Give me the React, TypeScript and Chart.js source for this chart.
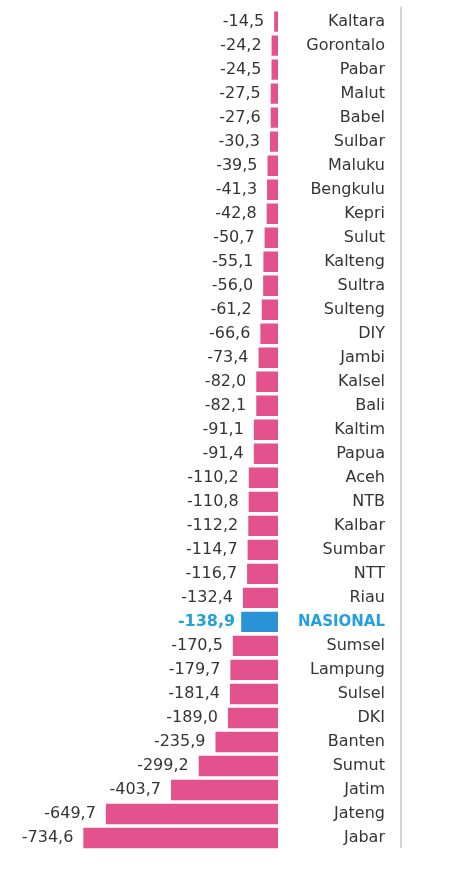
import React, { useEffect, useRef } from "react";
import { Chart, registerables } from "chart.js";

Chart.register(...registerables);

// Provinces, ordered from the smallest decline to the largest
const categories = [
  "Kaltara", "Gorontalo", "Pabar", "Malut", "Babel", "Sulbar", "Maluku",
  "Bengkulu", "Kepri", "Sulut", "Kalteng", "Sultra", "Sulteng", "DIY",
  "Jambi", "Kalsel", "Bali", "Kaltim", "Papua", "Aceh", "NTB", "Kalbar",
  "Sumbar", "NTT", "Riau", "NASIONAL", "Sumsel", "Lampung", "Sulsel", "DKI",
  "Banten", "Sumut", "Jatim", "Jateng", "Jabar",
];

const values = [
  -14.5, -24.2, -24.5, -27.5, -27.6, -30.3, -39.5,
  -41.3, -42.8, -50.7, -55.1, -56.0, -61.2, -66.6,
  -73.4, -82.0, -82.1, -91.1, -91.4, -110.2, -110.8, -112.2,
  -114.7, -116.7, -132.4, -138.9, -170.5, -179.7, -181.4, -189.0,
  -235.9, -299.2, -403.7, -649.7, -734.6,
];

const highlight = "NASIONAL";
const PINK = "#e4528d";
const BLUE = "#2a93d5";
const BLUE_TEXT = "#25a0dc";
const TEXT = "#353535";
const FONT = "'DejaVu Sans', sans-serif";

const fmt = (v: number) => v.toFixed(1).replace(".", ",");

const valueLabels = {
  id: "valueLabels",
  afterDatasetsDraw(chart: any) {
    const ctx = chart.ctx;
    const meta = chart.getDatasetMeta(0);
    ctx.save();
    ctx.textAlign = "right";
    ctx.textBaseline = "middle";
    meta.data.forEach((bar: any, i: number) => {
      const hl = categories[i] === highlight;
      ctx.font = `${hl ? "bold " : ""}16px ${FONT}`;
      ctx.fillStyle = hl ? BLUE_TEXT : TEXT;
      ctx.fillText(fmt(values[i]), bar.x - (hl ? 6 : 10), bar.y);
    });
    ctx.restore();
  },
};

const dividerLine = {
  id: "dividerLine",
  afterDraw(chart: any) {
    const { ctx, chartArea } = chart;
    const x = chart.scales.y.right + 16;
    ctx.save();
    ctx.strokeStyle = "#d4d4d4";
    ctx.lineWidth = 2;
    ctx.beginPath();
    ctx.moveTo(x, chartArea.top - 3);
    ctx.lineTo(x, chartArea.bottom - 2);
    ctx.stroke();
    ctx.restore();
  },
};

export default function App() {
  const ref = useRef<HTMLCanvasElement | null>(null);

  useEffect(() => {
    if (!ref.current) return;
    const chart = new Chart(ref.current, {
      type: "bar",
      data: {
        labels: categories,
        datasets: [
          {
            data: values,
            backgroundColor: categories.map((c) => (c === highlight ? BLUE : PINK)),
            borderWidth: 0,
            barPercentage: 0.85,
            categoryPercentage: 1,
          },
        ],
      },
      options: {
        indexAxis: "y",
        animation: false,
        responsive: false,
        layout: { padding: { left: 13, right: 68, top: 8, bottom: 33 } },
        plugins: {
          legend: { display: false },
          tooltip: { enabled: false },
        },
        scales: {
          x: { display: false, min: -1000, max: 0 },
          y: {
            position: "right",
            grid: { display: false },
            border: { display: false },
            afterFit(scale: any) {
              scale.width = 107;
            },
            ticks: {
              crossAlign: "far",
              autoSkip: false,
              padding: 0,
              color: (c: any) => (categories[c.index] === highlight ? BLUE_TEXT : TEXT),
              font: (c: any) =>
                categories[c.index] === highlight
                  ? { family: FONT, size: 15, weight: "bold" }
                  : { family: FONT, size: 16 },
            },
          },
        },
      },
      plugins: [valueLabels, dividerLine],
    });
    return () => chart.destroy();
  }, []);

  return (
    <div style={{ position: "absolute", left: 0, top: 0, width: 453, height: 883, background: "#fff" }}>
      <canvas ref={ref} width={453} height={883} />
    </div>
  );
}
